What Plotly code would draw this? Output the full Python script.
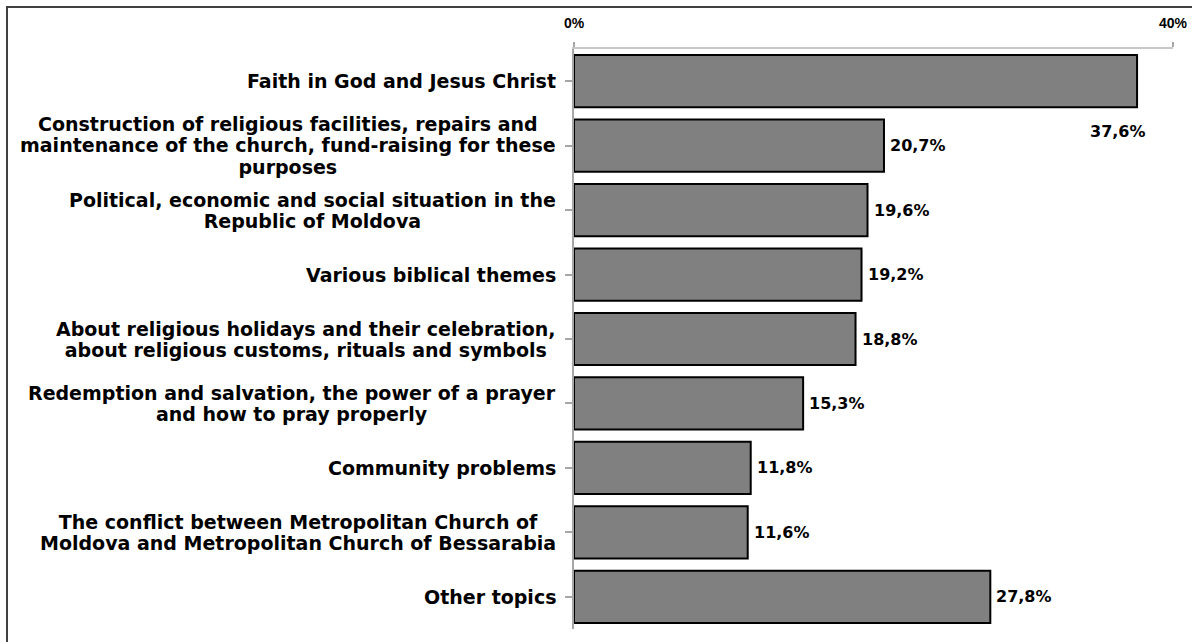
import plotly.graph_objects as go

categories = [
    "Faith in God and Jesus Christ",
    "Construction of religious facilities, repairs and<br>maintenance of the church, fund-raising for these<br>purposes",
    "Political, economic and social situation in the<br>Republic of Moldova",
    "Various biblical themes",
    "About religious holidays and their celebration,<br>about religious customs, rituals and symbols",
    "Redemption and salvation, the power of a prayer<br>and how to pray properly",
    "Community problems",
    "The conflict between Metropolitan Church of<br>Moldova and Metropolitan Church of Bessarabia",
    "Other topics",
]
values = [37.6, 20.7, 19.6, 19.2, 18.8, 15.3, 11.8, 11.6, 27.8]
tick_vals = [0, 40]
tick_text = ["0%", "40%"]

# base size controls line spacing; inner span size controls glyph size
CAT_FONT = dict(family="DejaVu Sans, Verdana, sans-serif", size=16.5, color="#000", weight="bold")
VAL_FONT = dict(family="DejaVu Sans, Verdana, sans-serif", size=16, color="#000", weight="bold")
TICK_FONT = dict(family="Liberation Sans, Arial, sans-serif", size=14, color="#000", weight="bold")


def styled(label):
    return "<br>".join(f'<span style="font-size:19px">{ln}</span>' for ln in label.split("<br>"))


fig = go.Figure()
fig.add_trace(go.Bar(
    x=values, y=list(range(len(categories))), orientation="h",
    marker=dict(color="#808080", line=dict(color="#000000", width=2)),
    width=0.81, hoverinfo="skip",
))

annotations = []
for i, (c, v) in enumerate(zip(categories, values)):
    annotations.append(dict(
        x=0, xref="paper", y=i, yref="y", text=styled(c), showarrow=False,
        xanchor="right", yanchor="middle", align="center", xshift=-16,
        font=CAT_FONT,
    ))
    lab = f"{v:.1f}%".replace(".", ",")
    if i == 0:
        annotations.append(dict(
            x=v, xref="x", y=i, yref="y", text=lab, showarrow=False,
            xanchor="left", yanchor="middle", xshift=-49, yshift=-50,
            font=VAL_FONT,
        ))
    else:
        annotations.append(dict(
            x=v, xref="x", y=i, yref="y", text=lab, showarrow=False,
            xanchor="left", yanchor="middle", xshift=4,
            font=VAL_FONT,
        ))

# x tick labels as annotations (top axis)
annotations.append(dict(x=tick_vals[0], xref="x", y=1.045, yref="paper", text=tick_text[0],
                        showarrow=False, xanchor="center", yanchor="middle", font=TICK_FONT))
annotations.append(dict(x=1, xref="paper", y=1.045, yref="paper", text=tick_text[1],
                        showarrow=False, xanchor="right", yanchor="middle", xshift=17, font=TICK_FONT))

fig.update_layout(
    width=1192, height=642,
    margin=dict(l=574, r=19, t=49, b=13),
    paper_bgcolor="white", plot_bgcolor="white",
    showlegend=False,
    annotations=annotations,
    shapes=[dict(type="rect", xref="paper", yref="paper",
                 x0=(7 - 574) / 599, x1=1.05, y0=-0.05, y1=(629 - 7) / 580,
                 line=dict(color="#404040", width=2), fillcolor="rgba(0,0,0,0)", layer="below")],
    xaxis=dict(
        side="top", range=[0, 40], tickvals=tick_vals, showticklabels=False,
        showgrid=True, gridcolor="#a6a6a6", gridwidth=2,
        showline=True, linecolor="#c8c8c8", linewidth=2,
        ticks="outside", ticklen=5, tickcolor="#a6a6a6", tickwidth=2,
        zeroline=False, fixedrange=True,
    ),
    yaxis=dict(
        range=[8.5, -0.5], tickvals=list(range(len(categories))), showticklabels=False,
        tickson="boundaries", ticks="outside", ticklen=7, tickcolor="#a6a6a6", tickwidth=2,
        showline=True, linecolor="#a6a6a6", linewidth=2, showgrid=False, zeroline=False,
    ),
)

fig.write_html("out.html")
